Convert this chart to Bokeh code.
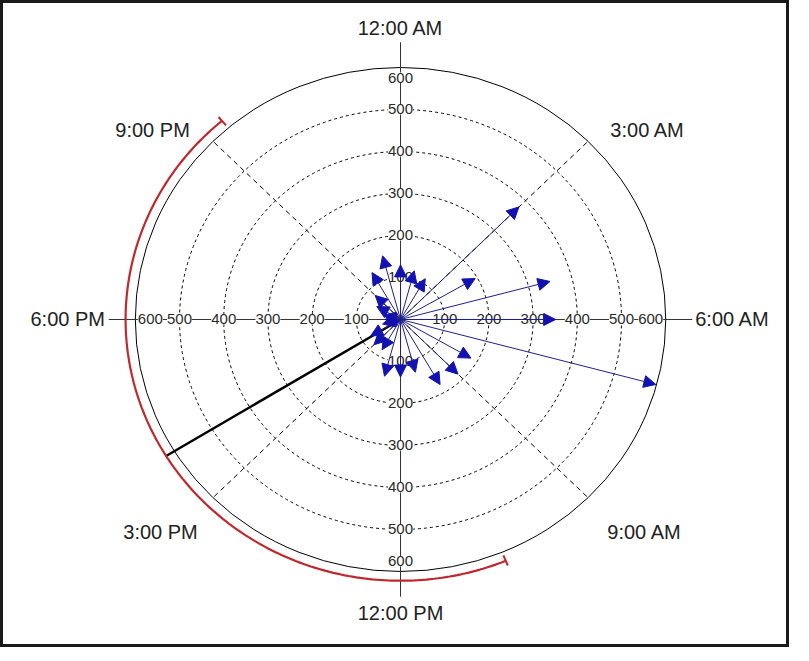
import numpy as np
from bokeh.plotting import figure
from bokeh.models import (Range1d, ColumnDataSource, Arrow, NormalHead, LabelSet, Label)
from bokeh.core.properties import value
from bokeh.embed import file_html
from bokeh.resources import INLINE

# ---------------- data ----------------
hours = list(range(24))
magnitudes = [130, 120, 112, 379, 195, 350, 351, 598, 184, 184, 179, 130,
              137, 140, 83, 85, 78, 42, 35, 40, 62, 81, 129, 157]
mean_hour = 15.9          # direction of resultant (hours)
mean_radius = 622         # drawn length of resultant line
spread_hours = 5.4        # half-width of red arc (hours)
ring_values = [100, 200, 300, 400, 500, 600]
hour_label_hours = [0, 3, 6, 9, 12, 15, 18, 21]
hour_label_text = ["12:00 AM", "3:00 AM", "6:00 AM", "9:00 AM",
                   "12:00 PM", "3:00 PM", "6:00 PM", "9:00 PM"]

# ---------------- helpers ----------------
def polar(h, r):
    a = np.deg2rad(np.asarray(h, dtype=float) * 15.0)
    return np.asarray(r, dtype=float) * np.sin(a), np.asarray(r, dtype=float) * np.cos(a)

FONT = "Liberation Sans"

p = figure(width=789, height=647, x_range=Range1d(-905, 880), y_range=Range1d(-781, 759.5),
           output_backend="svg", toolbar_location=None, min_border=0)
p.axis.visible = False
p.grid.visible = False
p.outline_line_color = "#1a1a1a"
p.outline_line_width = 5
p.background_fill_color = "white"
p.border_fill_color = "white"

rmax = ring_values[-1]
# dashed rings
for r in ring_values[:-1]:
    p.ellipse(x=0, y=0, width=2 * r, height=2 * r, fill_color=None,
              line_color="black", line_width=1, line_dash="3 3")
p.ellipse(x=0, y=0, width=2 * rmax, height=2 * rmax, fill_color=None,
          line_color="black", line_width=1)

# diagonal dashed spokes
dh = [3, 9, 15, 21]
dx, dy = polar(dh, [rmax] * 4)
p.segment(x0=[0] * 4, y0=[0] * 4, x1=dx, y1=dy, line_color="black",
          line_width=1, line_dash="5 4")

# main axes
ext = 1.1 * rmax
p.segment(x0=[-ext, 0], y0=[0, -ext], x1=[ext, 0], y1=[0, ext],
          line_color="#333333", line_width=1)

# tick labels along axes
tx, ty, tt = [], [], []
for r in ring_values:
    rr = r if r < rmax else r - 34
    rv = r if r < rmax else r - 24
    tx += [rr, -rr, 0, 0]
    ty += [0, 0, rv, -rv]
    tt += [str(r)] * 4
tick_src = ColumnDataSource(dict(x=tx, y=ty, text=tt))
p.add_layout(LabelSet(x="x", y="y", text="text", source=tick_src, text_align="center",
                      text_baseline="middle", text_font=value(FONT),
                      text_font_size=value("15px"),
                      text_color="#2a2a2a", background_fill_color="white"))

# resultant line and red spread arc
mx, my = polar([0, mean_hour], [0, mean_radius])
p.line(mx, my, line_color="black", line_width=2.5)
arc_h = np.linspace(mean_hour - spread_hours, mean_hour + spread_hours, 200)
ax, ay = polar(arc_h, np.full_like(arc_h, mean_radius))
p.line(ax, ay, line_color="#c0282d", line_width=2.2)
for eh in [mean_hour - spread_hours, mean_hour + spread_hours]:
    cx, cy = polar([eh, eh], [mean_radius - 14, mean_radius + 12])
    p.line(cx, cy, line_color="#c0282d", line_width=2)

# vector arrows
ex, ey = polar(hours, magnitudes)
arr_src = ColumnDataSource(dict(x0=[0.0] * 24, y0=[0.0] * 24, x1=ex, y1=ey))
p.add_layout(Arrow(x_start="x0", y_start="y0", x_end="x1", y_end="y1", source=arr_src,
                   line_color="#20208a", line_width=1,
                   end=NormalHead(size=12, fill_color="#1212b0", line_color="#1212b0",
                                  line_width=1)))

# hour labels
offsets = {0: (0, 695), 3: (559, 452), 6: (751, 0), 9: (552, -505),
           12: (0, -698), 15: (-543, -505), 18: (-753, 0), 21: (-561, 452)}
for h, t in zip(hour_label_hours, hour_label_text):
    x, y = offsets[h]
    p.add_layout(Label(x=x, y=y, text=t, text_align="center", text_baseline="middle",
                       text_font=FONT, text_font_size="20px", text_color="#222222"))

open("out.html", "w").write(file_html(p, INLINE))
